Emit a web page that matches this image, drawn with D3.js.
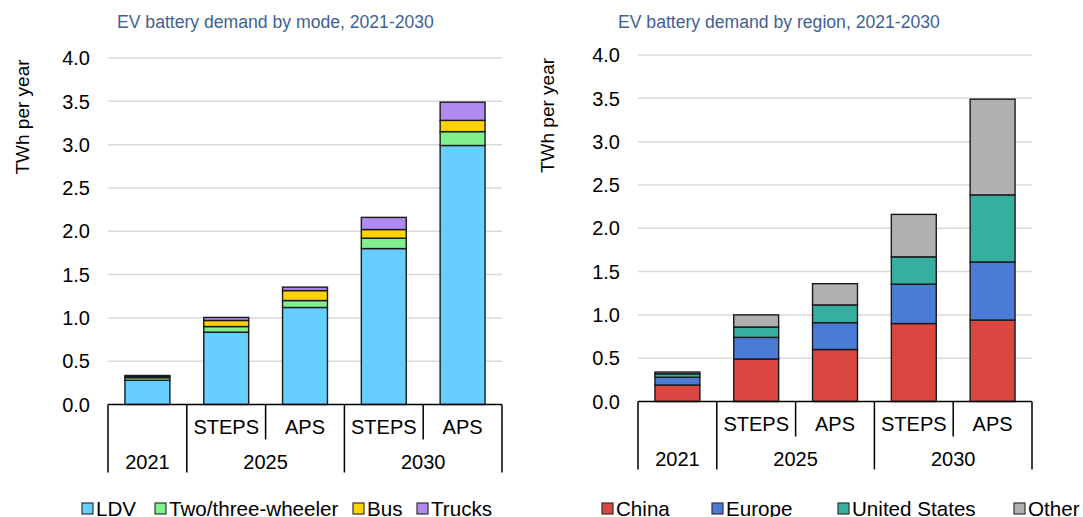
<!DOCTYPE html>
<html>
<head>
<meta charset="utf-8">
<script src="https://cdn.jsdelivr.net/npm/d3@7"></script>
<style>
  body { margin: 0; background: #fff; }
  svg { display: block; font-family: "Liberation Sans", Arial, sans-serif; }
</style>
</head>
<body>
<svg id="chart" width="1083" height="517"></svg>
<script>
// categories
var years = ["2021", "2025", "2025", "2030", "2030"];
var scenarios = ["", "STEPS", "APS", "STEPS", "APS"];
var yTicks = [0, 0.5, 1, 1.5, 2, 2.5, 3, 3.5, 4];

// left: by mode (TWh)
var modes = ["LDV", "Two/three-wheeler", "Bus", "Trucks"];
var ldv      = [0.28, 0.835, 1.12, 1.80, 2.99];
var twoThree = [0.03, 0.065, 0.08, 0.12, 0.16];
var bus      = [0.015, 0.07, 0.115, 0.10, 0.13];
var trucks   = [0.01, 0.035, 0.04, 0.14, 0.21];
var modeColors = ["#66cfff", "#80f08c", "#ffd200", "#b08af0"];

// right: by region (TWh)
var regions = ["China", "Europe", "United States", "Other"];
var china  = [0.19, 0.49, 0.60, 0.90, 0.94];
var europe = [0.09, 0.25, 0.31, 0.455, 0.67];
var us     = [0.04, 0.12, 0.205, 0.315, 0.775];
var other  = [0.02, 0.14, 0.245, 0.49, 1.105];
var regionColors = ["#da4741", "#4a7cd6", "#36afa0", "#b0b0b0"];

var svg = d3.select("#chart");

function drawChart(opt) {
  var g = svg.append("g");
  var idx = d3.range(years.length);

  var x = d3.scaleBand().domain(idx).range([opt.x0, opt.x1]).paddingInner(0).paddingOuter(0);
  var y = d3.scaleLinear().domain([0, 4]).range([opt.base, opt.top]);
  var bw = x.bandwidth() * 0.57;

  // gridlines
  g.selectAll(".grid").data(yTicks.slice(1)).enter().append("line")
    .attr("x1", opt.x0).attr("x2", opt.x1)
    .attr("y1", function(d){ return y(d); }).attr("y2", function(d){ return y(d); })
    .attr("stroke", "#d9d9d9").attr("stroke-width", 1.5);

  // tick labels
  g.selectAll(".tl").data(yTicks).enter().append("text")
    .attr("x", opt.x0 - 18).attr("y", function(d){ return y(d); })
    .attr("dy", "0.36em").attr("text-anchor", "end")
    .attr("font-size", 20).attr("fill", "#000")
    .text(function(d){ return d3.format(".1f")(d); });

  // axis title
  g.append("text")
    .attr("transform", "translate(" + opt.titleX + "," + ((opt.top + 60) / 2 + 58) + ") rotate(-90)")
    .attr("text-anchor", "middle").attr("dy", "0.35em")
    .attr("font-size", 19).text("TWh per year");

  // chart title
  g.append("text").attr("x", opt.headX).attr("y", 28)
    .attr("font-size", 17.6).attr("fill", "#3f5f95").text(opt.title);

  // stacked bars
  var rows = idx.map(function(i) {
    var r = {i: i};
    opt.keys.forEach(function(k, j){ r[k] = opt.series[j][i]; });
    return r;
  });
  var stack = d3.stack().keys(opt.keys)(rows);
  var layer = g.selectAll(".layer").data(stack).enter().append("g")
    .attr("fill", function(d, j){ return opt.colors[j]; });
  layer.selectAll("rect").data(function(d){ return d; }).enter().append("rect")
    .attr("x", function(d){ return x(d.data.i) + (x.bandwidth() - bw) / 2; })
    .attr("width", bw)
    .attr("y", function(d){ return y(d[1]); })
    .attr("height", function(d){ return y(d[0]) - y(d[1]); })
    .attr("stroke", "#1a1a1a").attr("stroke-width", 1.4);

  // category axis
  var bottom = opt.base + 68;
  g.append("line").attr("x1", opt.x0).attr("x2", opt.x1)
    .attr("y1", opt.base).attr("y2", opt.base)
    .attr("stroke", "#000").attr("stroke-width", 1.5);
  var edges = d3.range(years.length + 1);
  g.selectAll(".sep").data(edges).enter().append("line")
    .attr("x1", function(e){ return e < years.length ? x(e) : opt.x1; })
    .attr("x2", function(e){ return e < years.length ? x(e) : opt.x1; })
    .attr("y1", opt.base)
    .attr("y2", function(e){
      var full = e === 0 || e === years.length || years[e] !== years[e - 1];
      return full ? bottom : opt.base + 35;
    })
    .attr("stroke", "#000").attr("stroke-width", 1.5);

  g.selectAll(".sc").data(idx.filter(function(i){ return scenarios[i]; })).enter().append("text")
    .attr("x", function(i){ return x(i) + x.bandwidth() / 2; })
    .attr("y", opt.base + 29).attr("text-anchor", "middle")
    .attr("font-size", 20).text(function(i){ return scenarios[i]; });

  var groups = d3.groups(idx, function(i){ return years[i]; });
  g.selectAll(".yr").data(groups).enter().append("text")
    .attr("x", function(gr){
      var a = d3.min(gr[1]), b = d3.max(gr[1]);
      return (x(a) + x(b) + x.bandwidth()) / 2;
    })
    .attr("y", opt.base + 64).attr("text-anchor", "middle")
    .attr("font-size", 20).text(function(gr){ return gr[0]; });

  // legend
  var leg = g.selectAll(".leg").data(opt.keys).enter().append("g")
    .attr("transform", function(d, j){ return "translate(" + opt.legendX[j] + ",503)"; });
  leg.append("rect").attr("width", 11).attr("height", 11)
    .attr("fill", function(d, j){ return opt.colors[j]; })
    .attr("stroke", "#333").attr("stroke-width", 1.2);
  leg.append("text").attr("x", 14).attr("y", 12.5)
    .attr("font-size", 20.6).text(function(d){ return d; });
}

drawChart({
  x0: 108, x1: 502, base: 404.5, top: 58,
  titleX: 22, headX: 117,
  title: "EV battery demand by mode, 2021-2030",
  keys: modes, series: [ldv, twoThree, bus, trucks], colors: modeColors,
  legendX: [82, 155, 353, 417]
});

drawChart({
  x0: 638, x1: 1032, base: 401.5, top: 55,
  titleX: 547, headX: 618,
  title: "EV battery demand by region, 2021-2030",
  keys: regions, series: [china, europe, us, other], colors: regionColors,
  legendX: [602, 712, 838, 1014]
});
</script>
</body>
</html>
